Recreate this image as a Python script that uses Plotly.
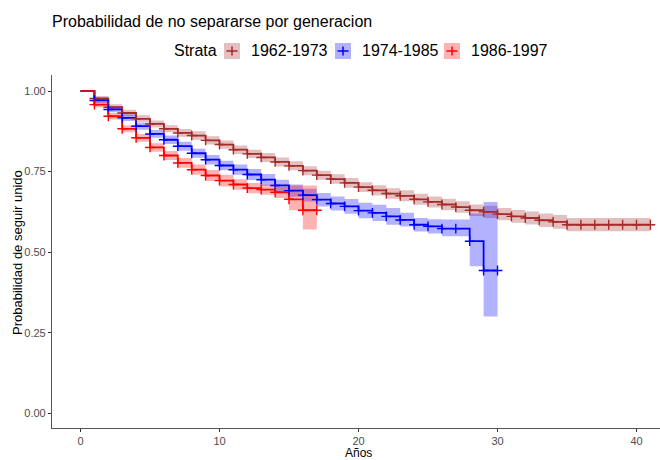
import plotly.graph_objects as go

# ---------------- data ----------------
strata = ["1962-1973", "1974-1985", "1986-1997"]
colors = ["#A52A2A", "#0000FF", "#FF0000"]
fills = ["rgba(165,42,42,0.30)", "rgba(0,0,255,0.30)", "rgba(255,0,0,0.30)"]

t_1962 = list(range(0, 42))
surv_1962 = [1.0, 0.977, 0.950, 0.932, 0.914, 0.898, 0.883, 0.870, 0.862, 0.847,
             0.834, 0.818, 0.805, 0.794, 0.780, 0.768, 0.753, 0.739, 0.727, 0.715,
             0.702, 0.692, 0.682, 0.675, 0.664, 0.656, 0.648, 0.640, 0.630, 0.625,
             0.618, 0.611, 0.606, 0.599, 0.594, 0.585, 0.585, 0.585, 0.585, 0.585,
             0.585, 0.585]
low_1962 = [1.0, 0.969, 0.941, 0.922, 0.903, 0.887, 0.872, 0.858, 0.849, 0.834,
            0.821, 0.805, 0.792, 0.780, 0.766, 0.754, 0.739, 0.725, 0.712, 0.700,
            0.687, 0.676, 0.666, 0.658, 0.647, 0.639, 0.630, 0.622, 0.612, 0.606,
            0.599, 0.591, 0.586, 0.578, 0.573, 0.565, 0.565, 0.565, 0.565, 0.565,
            0.565, 0.565]
up_1962 = [1.0, 0.985, 0.959, 0.942, 0.925, 0.909, 0.894, 0.882, 0.875, 0.860,
           0.847, 0.831, 0.818, 0.808, 0.794, 0.782, 0.767, 0.753, 0.742, 0.730,
           0.717, 0.708, 0.698, 0.692, 0.681, 0.673, 0.666, 0.658, 0.648, 0.644,
           0.637, 0.631, 0.626, 0.620, 0.615, 0.606, 0.606, 0.606, 0.606, 0.606,
           0.606, 0.606]

t_1974 = list(range(0, 31))
surv_1974 = [1.0, 0.971, 0.943, 0.917, 0.891, 0.867, 0.849, 0.829, 0.807, 0.787,
             0.769, 0.756, 0.741, 0.725, 0.707, 0.691, 0.677, 0.663, 0.651, 0.642,
             0.629, 0.622, 0.611, 0.600, 0.585, 0.580, 0.573, 0.573, 0.534, 0.443,
             0.443]
low_1974 = [1.0, 0.963, 0.934, 0.907, 0.880, 0.855, 0.836, 0.815, 0.793, 0.772,
            0.754, 0.740, 0.724, 0.707, 0.689, 0.672, 0.657, 0.642, 0.629, 0.619,
            0.605, 0.597, 0.585, 0.580, 0.564, 0.558, 0.549, 0.549, 0.456, 0.300,
            0.300]
up_1974 = [1.0, 0.979, 0.952, 0.927, 0.902, 0.879, 0.862, 0.843, 0.821, 0.802,
           0.784, 0.772, 0.758, 0.743, 0.725, 0.710, 0.697, 0.684, 0.673, 0.665,
           0.653, 0.647, 0.637, 0.622, 0.606, 0.602, 0.601, 0.601, 0.620, 0.656,
           0.656]

t_1986 = list(range(0, 18))
surv_1986 = [1.0, 0.958, 0.922, 0.883, 0.855, 0.825, 0.800, 0.777, 0.756, 0.738,
             0.722, 0.710, 0.699, 0.694, 0.686, 0.664, 0.630, 0.630]
low_1986 = [1.0, 0.950, 0.912, 0.872, 0.843, 0.812, 0.786, 0.762, 0.740, 0.721,
            0.704, 0.694, 0.683, 0.678, 0.668, 0.630, 0.570, 0.570]
up_1986 = [1.0, 0.966, 0.932, 0.894, 0.867, 0.838, 0.814, 0.792, 0.772, 0.755,
           0.740, 0.726, 0.715, 0.710, 0.704, 0.707, 0.707, 0.707]

series = [
    (t_1962, surv_1962, low_1962, up_1962),
    (t_1974, surv_1974, low_1974, up_1974),
    (t_1986, surv_1986, low_1986, up_1986),
]

x_ticks = [0, 10, 20, 30, 40]
y_ticks = [0.0, 0.25, 0.5, 0.75, 1.0]
y_tick_text = ["0.00", "0.25", "0.50", "0.75", "1.00"]

title_text = "Probabilidad de no separarse por generacion"
x_title = "Años"
y_title = "Probabilidad de seguir unido"
legend_title = "Strata"

# ---------------- figure ----------------
FONT = "Liberation Sans, Arial, sans-serif"
W, H = 660, 460
ML, MR, MT, MB = 52, 0, 75, 32

fig = go.Figure()

# confidence ribbons
for (t, s, lo, up), name, fc in zip(series, strata, fills):
    fig.add_trace(go.Scatter(x=t, y=up, mode="lines", line=dict(width=0, shape="hv"),
                             hoverinfo="skip", showlegend=False))
    fig.add_trace(go.Scatter(x=t, y=lo, mode="lines", line=dict(width=0, shape="hv"),
                             fill="tonexty", fillcolor=fc, hoverinfo="skip",
                             showlegend=False))

# survival step lines
for (t, s, lo, up), name, c in zip(series, strata, colors):
    fig.add_trace(go.Scatter(x=t, y=s, mode="lines", name=name,
                             line=dict(color=c, width=1.8, shape="hv"),
                             showlegend=False))

# censor marks
for (t, s, lo, up), name, c in zip(series, strata, colors):
    fig.add_trace(go.Scatter(x=t[1:], y=s[1:], mode="markers", name=name,
                             marker=dict(symbol="cross-thin", size=7,
                                         line=dict(color=c, width=1.4)),
                             showlegend=False))

# ---------------- manual legend (ggplot style) ----------------
pw = W - ML - MR
ph = H - MT - MB


def px(xp):
    return (xp - ML) / pw


def py(yp):
    return (H - MB - yp) / ph


shapes = []
annotations = []
leg_y = 51
annotations.append(dict(text=legend_title, x=px(172), y=py(leg_y), xref="paper", yref="paper",
                        xanchor="left", yanchor="middle", showarrow=False,
                        font=dict(family=FONT, size=16, color="#000000")))
key_x = [224, 335, 444]
for kx, name, c, fc in zip(key_x, strata, colors, fills):
    shapes.append(dict(type="rect", xref="paper", yref="paper",
                       x0=px(kx), x1=px(kx + 16), y0=py(leg_y - 8), y1=py(leg_y + 8),
                       fillcolor=fc, line=dict(width=0)))
    shapes.append(dict(type="line", xref="paper", yref="paper",
                       x0=px(kx + 2.5), x1=px(kx + 13.5), y0=py(leg_y), y1=py(leg_y),
                       line=dict(color=c, width=1.5)))
    shapes.append(dict(type="line", xref="paper", yref="paper",
                       x0=px(kx + 8), x1=px(kx + 8), y0=py(leg_y - 4.5), y1=py(leg_y + 4.5),
                       line=dict(color=c, width=1.5)))
    annotations.append(dict(text=name, x=px(kx + 25), y=py(leg_y), xref="paper", yref="paper",
                            xanchor="left", yanchor="middle", showarrow=False,
                            font=dict(family=FONT, size=16, color="#000000")))

# x-axis title just below the tick labels
annotations.append(dict(text=x_title, x=px(358), y=py(453), xref="paper", yref="paper",
                        xanchor="center", yanchor="middle", showarrow=False,
                        font=dict(family=FONT, size=12, color="#000000")))
# y-axis title
annotations.append(dict(text=y_title, x=px(17), y=py(253), xref="paper", yref="paper",
                        xanchor="center", yanchor="middle", showarrow=False, textangle=-90,
                        font=dict(family=FONT, size=13, color="#000000")))

fig.update_layout(
    width=W, height=H,
    margin=dict(l=ML, r=MR, t=MT, b=MB, pad=0),
    paper_bgcolor="white", plot_bgcolor="white",
    font=dict(family=FONT, color="#000000"),
    title=dict(text=title_text, x=ML / W, xanchor="left", xref="container",
               y=1 - 21 / H, yanchor="middle", yref="container",
               font=dict(family=FONT, size=16, color="#000000")),
    showlegend=False,
    shapes=shapes,
    annotations=annotations,
)

fig.update_xaxes(
    range=[-2.05, 41.69], tickvals=x_ticks, ticktext=[str(v) for v in x_ticks],
    showgrid=False, zeroline=False, showline=True, linecolor="#555555", linewidth=1.2,
    ticks="outside", ticklen=3, tickcolor="#333333", tickwidth=1,
    tickfont=dict(family=FONT, size=11, color="#4D4D4D"),
)
fig.update_yaxes(
    range=[-0.046, 1.05], tickvals=y_ticks, ticktext=y_tick_text,
    showgrid=False, zeroline=False, showline=True, linecolor="#555555", linewidth=1.2,
    ticks="outside", ticklen=3, tickcolor="#333333", tickwidth=1,
    tickfont=dict(family=FONT, size=11, color="#4D4D4D"),
)

fig.write_html("out.html")
